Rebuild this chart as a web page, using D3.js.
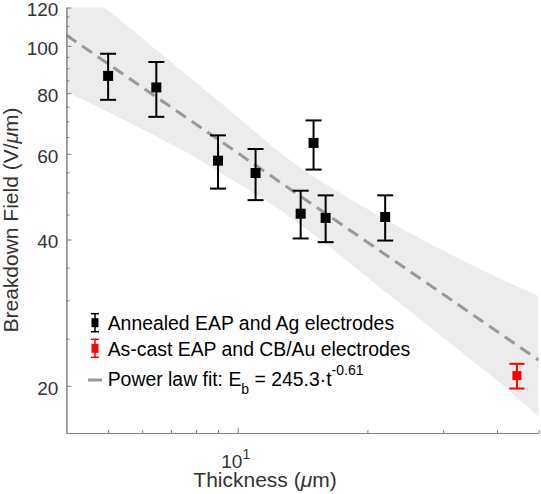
<!DOCTYPE html>
<html>
<head>
<meta charset="utf-8">
<script src="https://cdn.jsdelivr.net/npm/d3@7"></script>
<style>
  body { margin: 0; background: #fff; }
  svg { display: block; }
  text { font-family: "Liberation Sans", Arial, Helvetica, sans-serif; }
</style>
</head>
<body>
<div id="chart"></div>
<script>
// measured points (annealed EAP, Ag electrodes)
const thickness = [5, 6.47, 9, 11, 14, 15, 16, 22]
const field = [86.8, 82.2, 58.1, 54.8, 45.2, 63.2, 44.3, 44.5]
const fieldHigh = [96.4, 92.7, 65.5, 61.4, 50.4, 70.3, 49.3, 49.3]
const fieldLow = [77.5, 71.5, 50.9, 48.2, 40.2, 55.7, 39.5, 39.8]

// as-cast EAP, CB/Au electrodes
const castThickness = [44.5]
const castField = [21.0]
const castHigh = [22.2]
const castLow = [19.75]

// power law fit, end points
const fitT = [4, 50]
const fitE = [105.3, 22.6]

// shaded confidence band
const bandT = [4, 5, 6, 8, 10, 12, 15, 20, 25, 30, 40, 50]
const bandUpper = [139, 118.4, 103.7, 84.0, 71.6, 62.0, 53.6, 46.2, 41.3, 37.9, 33.4, 30.6]
const bandLower = [80.6, 73.1, 67.4, 59.2, 52.1, 47.4, 41.1, 33.4, 28.6, 25.1, 20.6, 17.3]

// ticks
const yMajor = [20, 40, 60, 80, 100, 120]
const yMinor = [25, 30, 35, 45, 50, 55, 65, 70, 75, 85, 90, 95, 105, 110, 115]
const xMajor = [10]
const xMinor = [5, 6, 7, 8, 9, 20, 30, 40, 50]

const W = 541, H = 494
const x = d3.scaleLog().domain([4, 50]).range([66.4, 538.7])
const y = d3.scaleLog().domain([16, 120]).range([433, 7.5])

const svg = d3.select("#chart").append("svg")
    .attr("width", W).attr("height", H)

svg.append("clipPath").attr("id", "plotclip")
    .append("rect")
    .attr("x", x.range()[0]).attr("y", y.range()[1])
    .attr("width", x.range()[1] - x.range()[0])
    .attr("height", y.range()[0] - y.range()[1])

const plot = svg.append("g").attr("clip-path", "url(#plotclip)")

// band
const band = bandT.map((t, i) => ({ t: t, lo: bandLower[i], hi: bandUpper[i] }))
plot.append("path")
    .datum(band)
    .attr("fill", "#ececec")
    .attr("d", d3.area()
        .x(d => x(d.t))
        .y0(d => y(d.lo))
        .y1(d => y(d.hi))
        .curve(d3.curveBasis))

// fit line
plot.append("path")
    .datum(fitT.map((t, i) => [t, fitE[i]]))
    .attr("fill", "none")
    .attr("stroke", "#999999")
    .attr("stroke-width", 3)
    .attr("stroke-dasharray", "12,7")
    .attr("d", d3.line().x(d => x(d[0])).y(d => y(d[1])))

// axes
const axisColor = "#808080"
const textColor = "#333333"

function styleAxis(g) {
    g.selectAll("path.domain").attr("stroke", axisColor)
    g.selectAll(".tick line").attr("stroke", axisColor)
    g.selectAll(".tick text").attr("fill", textColor).style("font-size", "19px")
}

svg.append("g")
    .attr("transform", `translate(${x.range()[0]},0)`)
    .call(d3.axisLeft(y).tickValues(yMinor).tickSize(-3).tickSizeOuter(0).tickFormat(""))
    .call(styleAxis)

svg.append("g")
    .attr("transform", `translate(${x.range()[0]},0)`)
    .call(d3.axisLeft(y).tickValues(yMajor).tickSize(-5).tickSizeOuter(0)
        .tickPadding(8).tickFormat(d3.format("d")))
    .call(styleAxis)
    .call(g => g.selectAll(".tick text").attr("dy", "0.44em"))

svg.append("g")
    .attr("transform", `translate(0,${y.range()[0]})`)
    .call(d3.axisBottom(x).tickValues(xMinor).tickSize(-3).tickSizeOuter(0).tickFormat(""))
    .call(styleAxis)

svg.append("g")
    .attr("transform", `translate(0,${y.range()[0]})`)
    .call(d3.axisBottom(x).tickValues(xMajor).tickSize(-5).tickSizeOuter(0).tickFormat(""))
    .call(styleAxis)

// 10^1 label
const xLab = svg.selectAll(".xlab").data(xMajor).enter().append("text")
    .attr("class", "xlab")
    .attr("x", d => x(d) - 2)
    .attr("y", 467.5)
    .attr("text-anchor", "middle")
    .attr("fill", textColor)
    .style("font-size", "19px")
xLab.append("tspan").text("10")
xLab.append("tspan").attr("dy", -9).style("font-size", "14px")
    .text(d => Math.round(Math.log10(d)))

// axis labels
const xt = svg.append("text")
    .attr("x", 265).attr("y", 487)
    .attr("text-anchor", "middle")
    .attr("fill", textColor)
    .style("font-size", "21px")
xt.append("tspan").text("Thickness (")
xt.append("tspan").style("font-style", "italic").text("μ")
xt.append("tspan").text("m)")

const yt = svg.append("text")
    .attr("transform", "translate(17.5,220) rotate(-90)")
    .attr("text-anchor", "middle")
    .attr("fill", textColor)
    .style("font-size", "21px")
yt.append("tspan").text("Breakdown Field (V/")
yt.append("tspan").style("font-style", "italic").text("μ")
yt.append("tspan").text("m)")

// error bars
function errorBars(g, ts, vs, hi, lo, color, cap, size) {
    const pts = ts.map((t, i) => ({ t: t, v: vs[i], hi: hi[i], lo: lo[i] }))
    const e = g.selectAll(null).data(pts).enter().append("g")
    e.append("line")
        .attr("x1", d => x(d.t)).attr("x2", d => x(d.t))
        .attr("y1", d => y(d.hi)).attr("y2", d => y(d.lo))
        .attr("stroke", color).attr("stroke-width", 2)
    e.append("line")
        .attr("x1", d => x(d.t) - cap / 2).attr("x2", d => x(d.t) + cap / 2)
        .attr("y1", d => y(d.hi)).attr("y2", d => y(d.hi))
        .attr("stroke", color).attr("stroke-width", 2)
    e.append("line")
        .attr("x1", d => x(d.t) - cap / 2).attr("x2", d => x(d.t) + cap / 2)
        .attr("y1", d => y(d.lo)).attr("y2", d => y(d.lo))
        .attr("stroke", color).attr("stroke-width", 2)
    e.append("rect")
        .attr("x", d => x(d.t) - size / 2).attr("y", d => y(d.v) - size / 2)
        .attr("width", size).attr("height", size)
        .attr("fill", color)
}

errorBars(svg, thickness, field, fieldHigh, fieldLow, "#000000", 16, 10)
errorBars(svg, castThickness, castField, castHigh, castLow, "#ff0000", 15, 9)

// legend
const legend = svg.append("g")
const legendItems = [
    { label: "Annealed EAP and Ag electrodes", color: "#000000", y: 322.7, type: "err" },
    { label: "As-cast EAP and CB/Au electrodes", color: "#ff0000", y: 348.3, type: "err" },
    { label: "fit", color: "#999999", y: 380, type: "line" }
]
const symX = 95, textX = 107.7
legendItems.forEach(it => {
    if (it.type === "err") {
        legend.append("line").attr("x1", symX).attr("x2", symX)
            .attr("y1", it.y - 9).attr("y2", it.y + 9)
            .attr("stroke", it.color).attr("stroke-width", 1.5)
        legend.append("line").attr("x1", symX - 4).attr("x2", symX + 4)
            .attr("y1", it.y - 9).attr("y2", it.y - 9)
            .attr("stroke", it.color).attr("stroke-width", 1.5)
        legend.append("line").attr("x1", symX - 4).attr("x2", symX + 4)
            .attr("y1", it.y + 9).attr("y2", it.y + 9)
            .attr("stroke", it.color).attr("stroke-width", 1.5)
        legend.append("rect").attr("x", symX - 3.5).attr("y", it.y - 4.5)
            .attr("width", 7).attr("height", 9).attr("fill", it.color)
        legend.append("text").attr("x", textX).attr("y", it.y + 7.3)
            .style("font-size", "19.4px").attr("fill", "#000")
            .text(it.label)
    } else {
        legend.append("line").attr("x1", symX - 7).attr("x2", symX + 7)
            .attr("y1", it.y).attr("y2", it.y)
            .attr("stroke", it.color).attr("stroke-width", 3)
        const t = legend.append("text").attr("x", textX).attr("y", it.y + 6)
            .style("font-size", "19.4px").attr("fill", "#000")
        t.append("tspan").text("Power law fit: E")
        t.append("tspan").attr("dy", 8).style("font-size", "14px").text("b")
        t.append("tspan").attr("dy", -8).text(" = 245.3·t")
        t.append("tspan").attr("dy", -11).style("font-size", "14px").text("-0.61")
    }
})
</script>
</body>
</html>
